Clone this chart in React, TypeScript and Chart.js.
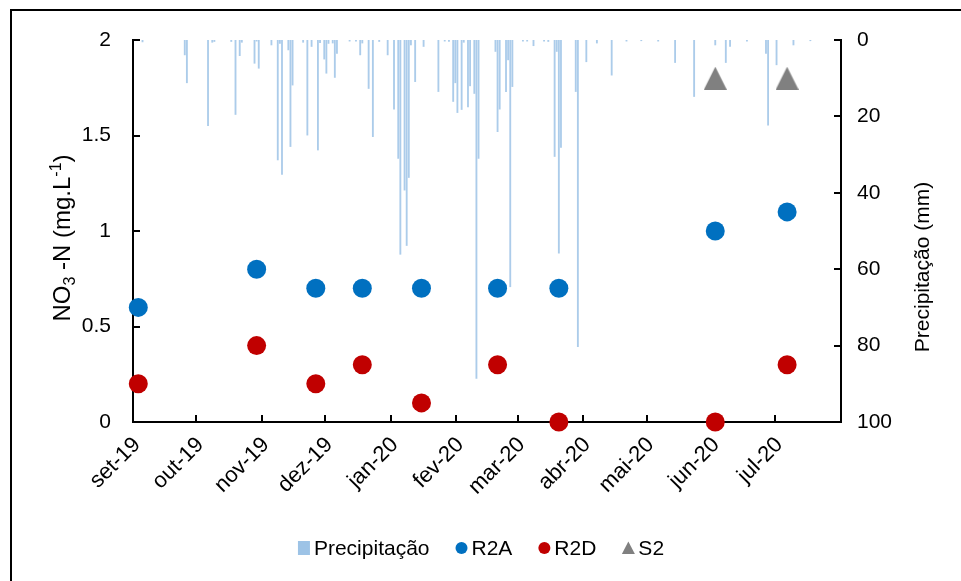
import { useEffect, useRef } from 'react';
import { Chart, registerables } from 'chart.js';

Chart.register(...registerables);

const FONT = '"Liberation Sans", Arial, sans-serif';
const FONT_SIZE = 21;
const TITLE_SIZE = 24;

// Eixo temporal: dias contados a partir de 01/09/2019
const ORIGIN = Date.UTC(2019, 8, 1);
const dayOf = (iso: string) => (Date.parse(iso + 'T00:00:00Z') - ORIGIN) / 86400000;

const monthStarts = [
  '2019-09-01', '2019-10-01', '2019-11-01', '2019-12-01', '2020-01-01', '2020-02-01',
  '2020-03-01', '2020-04-01', '2020-05-01', '2020-06-01', '2020-07-01', '2020-08-01',
];
const monthLabels = [
  'set-19', 'out-19', 'nov-19', 'dez-19', 'jan-20', 'fev-20',
  'mar-20', 'abr-20', 'mai-20', 'jun-20', 'jul-20',
];

// Datas de coleta e NO3-N (mg/L)
const sampleDates = [
  '2019-09-03', '2019-10-29', '2019-11-26', '2019-12-18', '2020-01-15',
  '2020-02-20', '2020-03-20', '2020-06-02', '2020-07-06',
];
const r2a = [0.6, 0.8, 0.7, 0.7, 0.7, 0.7, 0.7, 1.0, 1.1];
const r2d = [0.2, 0.4, 0.2, 0.3, 0.1, 0.3, 0.0, 0.0, 0.3];
const s2Dates = ['2020-06-02', '2020-07-06'];
const s2 = [1.8, 1.8];

// Precipitação diária (mm); dia = dias após 01/09/2019
const rainDay = [
  4, 24, 25, 35, 37, 38, 46, 48, 50, 51, 57, 58, 59, 65, 68, 69, 70, 73, 74, 75,
  80, 82, 84, 87, 88, 90, 91, 92, 94, 95, 96, 102, 105, 107, 108, 111, 113, 116, 120, 123,
  125, 126, 128, 129, 130, 131, 133, 137, 144, 147, 149, 151, 152, 153, 155, 156, 158, 159, 161, 162,
  163, 171, 172, 173, 176, 177, 178, 179, 184, 186, 189, 194, 196, 199, 200, 201, 202, 209, 210, 214,
  219, 226, 233, 240, 248, 256, 265, 275, 280, 282, 290, 299, 300, 304, 312, 320,
];
const rainMm = [
  0.5, 3.9, 11.2, 22.4, 0.6, 0.4, 0.4, 19.5, 4.1, 0.6, 6.1, 0.3, 7.4, 1.3, 31.4, 0.9, 35.2, 2.6, 27.9, 11.8,
  0.6, 24.9, 1.7, 28.8, 0.7, 5.0, 8.7, 0.9, 0.8, 9.8, 3.5, 0.3, 0.3, 3.9, 0.8, 12.7, 25.3, 0.4, 3.9, 18.1,
  31.0, 56.1, 39.3, 53.8, 36.0, 1.3, 10.9, 1.7, 13.5, 0.3, 0.4, 16.1, 11.2, 19.0, 18.2, 0.6, 17.5, 12.0, 14.0, 88.6,
  31.0, 3.0, 24.0, 18.1, 13.5, 5.2, 64.6, 12.2, 0.3, 0.3, 1.5, 0.3, 0.4, 30.5, 3.0, 55.8, 28.1, 13.5, 80.3, 5.7,
  0.8, 9.2, 0.3, 0.2, 0.3, 5.9, 14.8, 1.3, 5.9, 1.7, 0.3, 3.5, 22.3, 6.5, 1.3, 0.2,
];

const BLUE = '#0070c0';
const RED = '#c00000';
const GRAY = '#808080';
const RAIN = '#9dc3e6';

// pontos marcados no meio do dia
const xy = (dates: string[], vals: number[]) =>
  dates.map((d, i) => ({ x: dayOf(d) + 0.5, y: vals[i] }));

function makeTriangle(w: number, h: number, color: string) {
  const c = document.createElement('canvas');
  c.width = w;
  c.height = h;
  const g = c.getContext('2d')!;
  g.fillStyle = color;
  g.beginPath();
  g.moveTo(w / 2, 0);
  g.lineTo(w, h);
  g.lineTo(0, h);
  g.closePath();
  g.fill();
  return c;
}

// marcas de escala voltadas para dentro
const innerTicks = {
  id: 'innerTicks',
  beforeDatasetsDraw(chart: any) {
    const { ctx, scales } = chart;
    const x = scales.x, y = scales.y, y2 = scales.y2;
    const len = 7;
    ctx.save();
    ctx.strokeStyle = '#000';
    ctx.lineWidth = 2;
    ctx.beginPath();
    y.ticks.forEach((t: any) => {
      const p = Math.round(y.getPixelForValue(t.value));
      ctx.moveTo(y.right, p);
      ctx.lineTo(y.right + len, p);
    });
    y2.ticks.forEach((t: any) => {
      const p = Math.round(y2.getPixelForValue(t.value));
      ctx.moveTo(y2.left - len, p);
      ctx.lineTo(y2.left, p);
    });
    x.ticks.forEach((t: any) => {
      const p = Math.round(x.getPixelForValue(t.value));
      ctx.moveTo(p, x.top);
      ctx.lineTo(p, x.top - len);
    });
    ctx.stroke();
    ctx.restore();
  },
};

// títulos dos eixos (com índice e expoente) e legenda
const annotations = {
  id: 'annotations',
  afterDraw(chart: any) {
    const { ctx } = chart;
    const big = `${FONT_SIZE}px ${FONT}`;
    const titleBig = `${TITLE_SIZE}px ${FONT}`;
    const titleSmall = `${Math.round(TITLE_SIZE * 0.65)}px ${FONT}`;
    ctx.save();
    ctx.fillStyle = '#000';
    ctx.textBaseline = 'alphabetic';

    // título do eixo esquerdo
    const parts: [string, string, number][] = [
      ['NO', titleBig, 0],
      ['3', titleSmall, 5],
      [' -N (mg.L', titleBig, 0],
      ['-1', titleSmall, -9],
      [')', titleBig, 0],
    ];
    let total = 0;
    parts.forEach(([t, f]) => { ctx.font = f; total += ctx.measureText(t).width; });
    ctx.save();
    ctx.translate(70, 238);
    ctx.rotate(-Math.PI / 2);
    let cx = -total / 2;
    parts.forEach(([t, f, dy]) => {
      ctx.font = f;
      ctx.fillText(t, cx, dy);
      cx += ctx.measureText(t).width;
    });
    ctx.restore();

    // título do eixo direito
    ctx.save();
    ctx.font = big;
    ctx.translate(929, 267);
    ctx.rotate(-Math.PI / 2);
    ctx.textAlign = 'center';
    ctx.fillText('Precipitação (mm)', 0, 0);
    ctx.restore();

    // legenda
    const items = chart.data.datasets.map((ds: any) => ds.label);
    const kinds = chart.data.datasets.map((ds: any) => ds.legendKind);
    const colors = chart.data.datasets.map((ds: any) => ds.legendColor);
    const markW = 12, gap = 4, spacing = 26;
    ctx.font = big;
    const widths = items.map((t: string) => ctx.measureText(t).width);
    const order = [3, 0, 1, 2];
    let rowW = 0;
    order.forEach((k, i) => { rowW += markW + gap + widths[k] + (i < order.length - 1 ? spacing : 0); });
    let lx = 481 - rowW / 2;
    const ly = 548;
    order.forEach((k) => {
      ctx.fillStyle = colors[k];
      if (kinds[k] === 'rect') {
        ctx.fillRect(lx, ly - 7, 12, 14);
      } else if (kinds[k] === 'circle') {
        ctx.beginPath();
        ctx.arc(lx + 6, ly, 6, 0, Math.PI * 2);
        ctx.fill();
      } else {
        ctx.beginPath();
        ctx.moveTo(lx + 6, ly - 6.5);
        ctx.lineTo(lx + 12.5, ly + 6);
        ctx.lineTo(lx - 0.5, ly + 6);
        ctx.closePath();
        ctx.fill();
      }
      ctx.fillStyle = '#000';
      ctx.textBaseline = 'middle';
      ctx.fillText(items[k], lx + markW + gap, ly + 1);
      lx += markW + gap + widths[k] + spacing;
    });
    ctx.restore();
  },
};

export default function App() {
  const ref = useRef<HTMLCanvasElement>(null);

  useEffect(() => {
    const canvas = ref.current;
    if (!canvas) return;
    Chart.defaults.font.family = FONT;
    Chart.defaults.font.size = FONT_SIZE;
    Chart.defaults.color = '#000';

    const triangle = makeTriangle(23, 23, GRAY);
    const tickFont = { family: FONT, size: FONT_SIZE };
    const axisBorder = { display: true, color: '#000', width: 2 };

    const chart = new Chart(canvas, {
      type: 'scatter',
      data: {
        datasets: [
          {
            label: 'R2A', legendKind: 'circle', legendColor: BLUE,
            data: xy(sampleDates, r2a), yAxisID: 'y',
            backgroundColor: BLUE, borderColor: BLUE, pointRadius: 9.5, borderWidth: 0, clip: false,
          } as any,
          {
            label: 'R2D', legendKind: 'circle', legendColor: RED,
            data: xy(sampleDates, r2d), yAxisID: 'y',
            backgroundColor: RED, borderColor: RED, pointRadius: 9.5, borderWidth: 0, clip: false,
          } as any,
          {
            label: 'S2', legendKind: 'triangle', legendColor: GRAY,
            data: xy(s2Dates, s2), yAxisID: 'y',
            pointStyle: triangle, pointRadius: 12, clip: false,
          } as any,
          {
            type: 'bar', label: 'Precipitação', legendKind: 'rect', legendColor: RAIN,
            data: rainDay.map((d, i) => ({ x: d + 0.5, y: rainMm[i] })), yAxisID: 'y2',
            backgroundColor: 'rgba(157,195,230,0.85)', borderWidth: 0, barThickness: 1.2, grouped: false, order: 5,
          } as any,
        ],
      },
      options: {
        animation: false,
        responsive: false,
        devicePixelRatio: 1,
        events: [],
        layout: { padding: { top: 40, bottom: 59, left: 0, right: 0 } },
        plugins: { legend: { display: false }, tooltip: { enabled: false } },
        scales: {
          x: {
            type: 'linear',
            offset: false,
            min: dayOf(monthStarts[0]),
            max: dayOf(monthStarts[monthStarts.length - 1]),
            afterBuildTicks: (s: any) => { s.ticks = monthStarts.map((d) => ({ value: dayOf(d) })); },
            afterFit: (s: any) => { s.height = 100; },
            ticks: {
              autoSkip: false, maxRotation: 45, minRotation: 45, padding: 10, labelOffset: 4,
              font: { family: FONT, size: 22 }, color: '#000',
              callback: (_v: any, i: number) => monthLabels[i] ?? '',
            },
            grid: { display: false, drawTicks: false, offset: false },
            border: axisBorder,
          },
          y: {
            position: 'left', min: 0, max: 2,
            afterFit: (s: any) => { s.width = 133; },
            ticks: { stepSize: 0.5, padding: 22, font: tickFont, color: '#000', callback: (v: any) => String(v) },
            grid: { display: false, drawTicks: false },
            border: axisBorder,
          },
          y2: {
            position: 'right', min: 0, max: 100, reverse: true,
            afterFit: (s: any) => { s.width = 120; },
            ticks: { stepSize: 20, padding: 16, font: tickFont, color: '#000', callback: (v: any) => String(v) },
            grid: { display: false, drawTicks: false },
            border: axisBorder,
          },
        },
      } as any,
      plugins: [innerTicks, annotations],
    });
    return () => chart.destroy();
  }, []);

  return (
    <div style={{ position: 'absolute', left: 0, top: 0, width: 961, height: 581, overflow: 'hidden', background: '#fff' }}>
      <canvas ref={ref} width={961} height={581} style={{ position: 'absolute', left: 0, top: 0, width: 961, height: 581 }} />
      <div style={{ position: 'absolute', left: 10, top: 9, width: 980, height: 600, border: '2px solid #000', pointerEvents: 'none' }} />
    </div>
  );
}
